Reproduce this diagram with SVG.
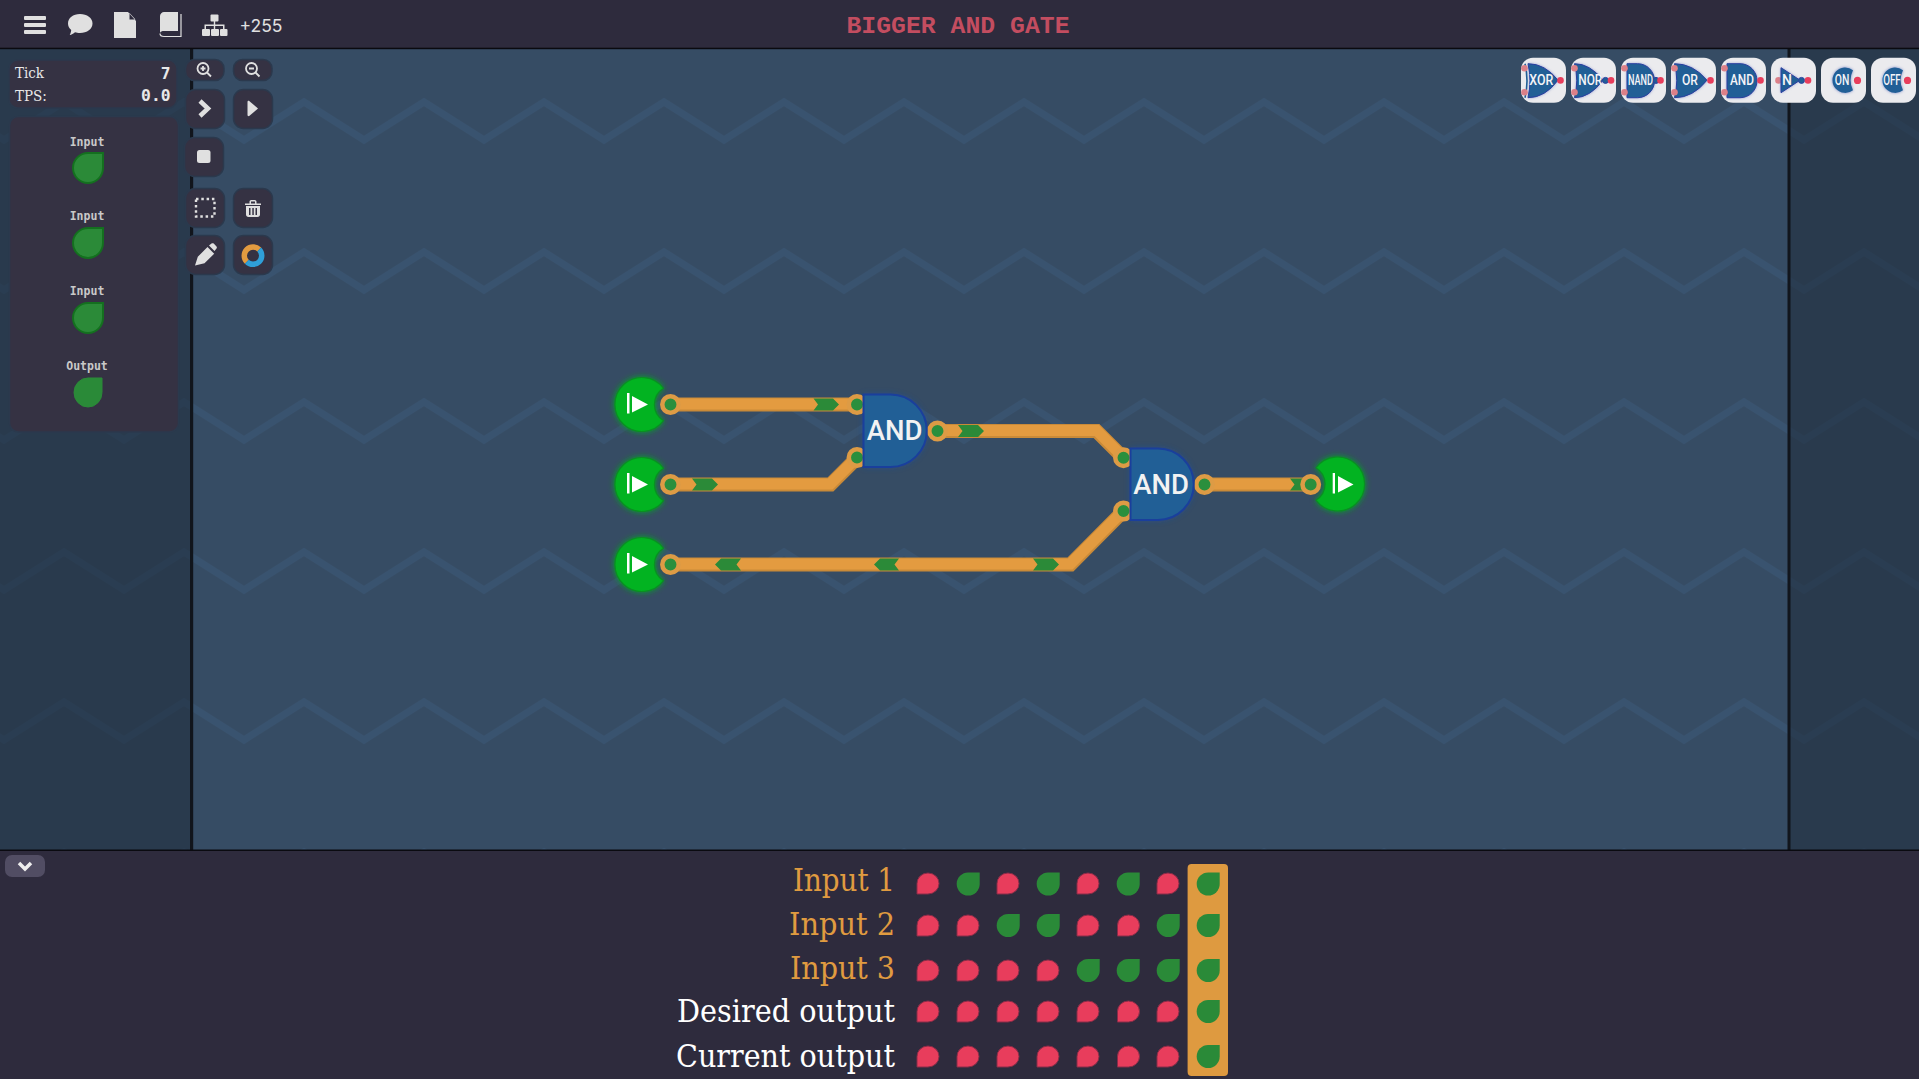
<svg xmlns="http://www.w3.org/2000/svg" width="1919" height="1079" viewBox="0 0 1919 1079">
<style>
.bar{fill:#2e2b3d}
.btn{fill:#353243;stroke:#2b394d;stroke-width:1.5}
.ico{fill:#e0e0e0}
.ical{fill:none;stroke:#e0e0e0}
.slab{font-family:"DejaVu Serif Condensed","DejaVu Serif",serif}
.lab{font-size:31px;text-anchor:end}
.or{fill:#e09b40}
.wh{fill:#fff}
.wb{fill:none;stroke:#c98a38;stroke-width:14;stroke-linejoin:miter}
.wt{fill:none;stroke:#e39b40;stroke-width:11;stroke-linejoin:miter}
.ch{fill:#2b8a38}
.pin{fill:#2b8f3d;stroke:#dd9b45;stroke-width:4.5;filter:url(#b1)}
.gate{fill:#215f96;stroke:#1a3f9c;stroke-width:2}
.gt{font-family:Roboto,sans-serif;font-weight:500;font-size:27.5px;fill:#f2f2f2;text-anchor:middle}
.node{fill:#02b321;stroke:#0a8f22;stroke-width:1.2}
.sm{font-family:"DejaVu Sans Mono",monospace;font-size:11.5px;font-weight:700;fill:#c9c9c9;text-anchor:middle}
.leaf{fill:#2b8a38;stroke:#14701f;stroke-width:2}
.tile{fill:#ebebee}
.mg{fill:#215f96;stroke:#2a3fa0;stroke-width:1}
.mt{font-family:Roboto,sans-serif;font-weight:500;font-size:14px;fill:#f4f4f8;text-anchor:middle}
.po{fill:#e83e5c}
.pi{fill:#dc8088}
.r{fill:#e83e5c;stroke:#8a2c48;stroke-width:1;filter:url(#b1)}
.g{fill:#2b8a38;filter:url(#b1)}
</style>
<defs>
<pattern id="zig" width="120" height="150" patternUnits="userSpaceOnUse" patternTransform="translate(244 140)">
<path d="M-60 -38L0 0L60 -38L120 0L180 -38M-60 112L0 150L60 112L120 150L180 112" fill="none" stroke="#39536f" stroke-width="7"/>
</pattern>
<filter id="b1" x="-30%" y="-30%" width="160%" height="160%"><feGaussianBlur stdDeviation="0.5"/></filter>
<filter id="glow" x="-40%" y="-40%" width="180%" height="180%"><feGaussianBlur stdDeviation="3"/></filter>
<filter id="mglow" x="-40%" y="-40%" width="180%" height="180%"><feGaussianBlur stdDeviation="1.6"/></filter>
<path id="red" d="M0 21V10.500A11 10.500 0 1 1 11 21Z" class="r"/>
<path id="grn" d="M23 0V11.500A11.500 11.500 0 1 1 11.500 0Z" class="g"/>
<path id="leafd" d="M15 0V15A15 15 0 1 1 0 0Z" class="leaf"/>
<path id="nodeL" d="M21 -16.2A27 27 0 1 0 21 16.2A19 19 0 0 1 21 -16.2Z" class="node"/>
</defs>

<rect width="1919" height="1079" fill="#364c64"/>
<rect width="1919" height="850" fill="url(#zig)"/>
<rect x="0" y="48" width="190" height="802" fill="#1f2c3b" opacity="0.55"/>
<rect x="1790" y="48" width="129" height="802" fill="#1f2c3b" opacity="0.55"/>
<rect x="190" y="48" width="3.2" height="802" fill="#11151c"/>
<rect x="1787.5" y="48" width="3" height="802" fill="#11151c"/>

<g id="topbar">
<rect class="bar" width="1919" height="48"/>
<rect y="47.7" width="1919" height="1.5" fill="#0a0a10"/>
<g class="ico">
<rect x="24" y="16" width="22" height="4" rx="1"/><rect x="24" y="23" width="22" height="4" rx="1"/><rect x="24" y="30" width="22" height="4" rx="1"/>
<path d="M80 14C87 14 92.500 18 92.500 23.500C92.500 29 87 33 80 33C78 33 76.500 32.700 75 32.200C73.500 33.500 71.500 34.700 69.700 35C70.500 33.800 71 32 71.200 30C69 28.200 68 26 68 23.500C68 18 73 14 80 14Z"/>
<path d="M114 12H128L136 21V38H114ZM129.500 13V19.500H135.500Z" fill-rule="evenodd"/>
<path d="M164 12H178V31H164C162 31 160.500 31.500 160 33V16C160 14 162 12 164 12Z"/>
<path d="M160 33.500C160 35.500 162 36.500 164 36.500H181V14" fill="none" stroke="#e0e0e0" stroke-width="1.2"/>
<rect x="210.500" y="14.500" width="8" height="7" rx="1"/><rect x="202" y="29" width="8" height="7" rx="1"/><rect x="211" y="29" width="8" height="7" rx="1"/><rect x="220" y="29" width="7.500" height="7" rx="1"/>
<path d="M213.800 21H215.200V24.500H224.500V29H223V26H215.200V29H213.800V26H206V29H204.500V24.500H213.800Z"/>
</g>
<text x="239.500" y="32" font-family="Inter,sans-serif" font-size="17.500" fill="#e0e0e0">+255</text>
<text x="958" y="33" text-anchor="middle" font-family="'Liberation Mono',monospace" font-weight="700" font-size="24.800" fill="#c34d60">BIGGER AND GATE</text>
</g>

<g id="tick-panel">
<rect class="btn" x="9" y="60" width="168" height="48" rx="9"/>
<text class="slab" x="15" y="78" font-size="15" fill="#e8e8e8">Tick</text>
<text class="slab" x="15" y="101" font-size="15" fill="#e8e8e8">TPS:</text>
<text x="170.500" y="79" text-anchor="end" font-family="'DejaVu Sans Mono',monospace" font-size="16.300" font-weight="700" fill="#e8e8e8">7</text>
<text x="170.500" y="101" text-anchor="end" font-family="'DejaVu Sans Mono',monospace" font-size="16.300" font-weight="700" fill="#e8e8e8">0.0</text>
</g>

<g id="tools">
<rect class="btn" x="185.500" y="59.500" width="38.500" height="21" rx="9"/>
<rect class="btn" x="233.500" y="59.500" width="38.500" height="21" rx="9"/>
<g class="ical" stroke-width="1.800">
<circle cx="203" cy="68.500" r="5.500"/><path d="M207 72.500L211 76.500M200.500 68.500H205.500M203 66V71"/>
<circle cx="251.500" cy="68.500" r="5.500"/><path d="M255.500 72.500L259.500 76.500M249 68.500H254"/>
</g>
<rect class="btn" x="185.500" y="89.500" width="39" height="39" rx="10"/>
<rect class="btn" x="233.500" y="89.500" width="39" height="39" rx="10"/>
<path d="M200 101L208 108.500L200 116" fill="none" stroke="#e0e0e0" stroke-width="4.500"/>
<path class="ico" d="M247.500 102C247.500 101 248.500 100.500 249.500 101.200L258 108.500L249.500 115.800C248.500 116.500 247.500 116 247.500 115Z"/>
<rect class="btn" x="184.500" y="137.500" width="39" height="39" rx="10"/>
<rect class="ico" x="197" y="150" width="13.500" height="13" rx="2.500"/>
<rect class="btn" x="185.500" y="188.500" width="39" height="39" rx="10"/>
<rect class="btn" x="233.500" y="188.500" width="39" height="39" rx="10"/>
<rect x="196" y="199" width="18.500" height="17.500" fill="none" stroke="#e0e0e0" stroke-width="2.400" stroke-dasharray="2.500 2.800"/>
<path class="ico" d="M245 203.500H249.500V201.800C249.500 200.700 250.300 200 251.300 200H254.700C255.700 200 256.500 200.700 256.500 201.800V203.500H261V205H245ZM251 203.500H255V201.500H251ZM246 206H260V214.500C260 216 259 217 257.500 217H248.500C247 217 246 216 246 214.500ZM249 208V215H250.500V208ZM252.300 208V215H253.800V208ZM255.500 208V215H257V208Z" fill-rule="evenodd"/>
<rect class="btn" x="185.500" y="235.500" width="39" height="39" rx="10"/>
<rect class="btn" x="233.500" y="235.500" width="39" height="39" rx="10"/>
<path class="ico" d="M195 265.500L197.800 256.800L207.500 247L214.200 253.700L204.500 263.200ZM209 245.500L211.500 243.500C212.300 243 213 243 213.700 243.600L216.500 246.400C217 247 217 247.800 216.500 248.500L214.500 251Z"/>
<path d="M246.800 261.800A8.700 8.700 0 0 1 259.200 249.500" fill="none" stroke="#e39b40" stroke-width="5.500"/>
<path d="M259.200 249.500A8.700 8.700 0 0 1 246.800 261.800" fill="none" stroke="#2f9fd8" stroke-width="5.500"/>
</g>

<g id="io-panel">
<rect class="btn" x="9.500" y="116.500" width="169" height="315.500" rx="9"/>
<text class="sm" x="87" y="145.500">Input</text>
<use href="#leafd" transform="translate(88 153)"/>
<text class="sm" x="87" y="220">Input</text>
<use href="#leafd" transform="translate(88 228)"/>
<text class="sm" x="87" y="295">Input</text>
<use href="#leafd" transform="translate(88 303)"/>
<text class="sm" x="87" y="370">Output</text>
<path d="M102 378V392.500A14 14.500 0 1 1 88 378Z" fill="#2b8a38" stroke="#2b8a38" stroke-width="1" filter="url(#b1)"/>
</g>

<g id="palette">
<g id="tile-xor" transform="translate(1521 57.700)">
<rect class="tile" width="45" height="45" rx="12"/>
<path d="M7 6Q24 6 37 22.500Q24 40 7 40Q11 23 7 6Z" fill="#7c88c8" filter="url(#mglow)"/>
<path class="mg" d="M7 6Q24 6 37 22.500Q24 40 7 40Q11 23 7 6Z"/>
<path d="M4 6Q8 23 4 40" fill="none" stroke="#215f96" stroke-width="1.600"/>
<circle class="pi" cx="3.500" cy="10.500" r="3.300"/><circle class="pi" cx="3.500" cy="34.500" r="3.300"/><circle class="po" cx="39.500" cy="22.700" r="3.300"/>
<text class="mt" x="20.300" y="27.500" textLength="24" lengthAdjust="spacingAndGlyphs">XOR</text>
</g>
<g id="tile-nor" transform="translate(1571 57.700)">
<rect class="tile" width="45" height="45" rx="12"/>
<path d="M3.500 6Q19 6 32 22.500Q19 40 3.500 40Q8 23 3.500 6Z" fill="#7c88c8" filter="url(#mglow)"/>
<path class="mg" d="M3.500 6Q19 6 32 22.500Q19 40 3.500 40Q8 23 3.500 6Z"/>
<circle cx="34.500" cy="22.700" r="3" fill="#215f96" stroke="#2a3fa0"/>
<circle class="pi" cx="3.500" cy="10.500" r="3.300"/><circle class="pi" cx="3.500" cy="34.500" r="3.300"/><circle class="po" cx="40" cy="22.700" r="3.300"/>
<text class="mt" x="19.300" y="27.500" textLength="24" lengthAdjust="spacingAndGlyphs">NOR</text>
</g>
<g id="tile-nand" transform="translate(1621 57.700)">
<rect class="tile" width="45" height="45" rx="12"/>
<path d="M6 6H16.500A17 17 0 0 1 16.500 40H6Z" fill="#7c88c8" filter="url(#mglow)"/>
<path class="mg" d="M6 6H16.500A17 17 0 0 1 16.500 40H6Z"/>
<circle cx="35" cy="22.700" r="3" fill="#215f96" stroke="#2a3fa0"/>
<circle class="pi" cx="3.500" cy="10.500" r="3.300"/><circle class="pi" cx="3.500" cy="34.500" r="3.300"/><circle class="po" cx="39.500" cy="22.700" r="3.300"/>
<text class="mt" x="19.500" y="27.500" textLength="25" lengthAdjust="spacingAndGlyphs">NAND</text>
</g>
<g id="tile-or" transform="translate(1671 57.700)">
<rect class="tile" width="45" height="45" rx="12"/>
<path d="M3.500 6Q22 6 36 22.500Q22 40 3.500 40Q8 23 3.500 6Z" fill="#7c88c8" filter="url(#mglow)"/>
<path class="mg" d="M3.500 6Q22 6 36 22.500Q22 40 3.500 40Q8 23 3.500 6Z"/>
<circle class="pi" cx="3.500" cy="10.500" r="3.300"/><circle class="pi" cx="3.500" cy="34.500" r="3.300"/><circle class="po" cx="39.500" cy="22.700" r="3.300"/>
<text class="mt" x="19" y="27.500" textLength="16" lengthAdjust="spacingAndGlyphs">OR</text>
</g>
<g id="tile-and" transform="translate(1721 57.700)">
<rect class="tile" width="45" height="45" rx="12"/>
<path d="M6 6H19A17 17 0 0 1 19 40H6Z" fill="#7c88c8" filter="url(#mglow)"/>
<path class="mg" d="M6 6H19A17 17 0 0 1 19 40H6Z"/>
<circle class="pi" cx="3.500" cy="10.500" r="3.300"/><circle class="pi" cx="3.500" cy="34.500" r="3.300"/><circle class="po" cx="39.500" cy="22.700" r="3.300"/>
<text class="mt" x="21" y="27.500" textLength="24" lengthAdjust="spacingAndGlyphs">AND</text>
</g>
<g id="tile-not" transform="translate(1771 57.700)">
<rect class="tile" width="45" height="45" rx="12"/>
<circle class="pi" cx="7.500" cy="22.700" r="3.300"/>
<path d="M10 10V35L29 22.500Z" fill="#7c88c8" filter="url(#mglow)"/>
<path class="mg" d="M10 10V35L29 22.500Z"/>
<circle cx="30.500" cy="22.700" r="3" fill="#215f96" stroke="#2a3fa0"/>
<circle class="po" cx="37" cy="22.700" r="3.300"/>
<text class="mt" x="16" y="27.500">N</text>
</g>
<g id="tile-on" transform="translate(1821 57.700)">
<rect class="tile" width="45" height="45" rx="12"/>
<path d="M32 12.500A12.700 12.700 0 1 0 32 32.500Q27 22.500 32 12.500Z" fill="#7c88c8" filter="url(#mglow)"/>
<path d="M32 12.500A12.700 12.700 0 1 0 32 32.500Q27 22.500 32 12.500Z" fill="#215f96"/>
<circle class="po" cx="36.500" cy="22.700" r="3.600"/>
<text class="mt" x="21" y="27.500" textLength="14.500" lengthAdjust="spacingAndGlyphs">ON</text>
</g>
<g id="tile-off" transform="translate(1871 57.700)">
<rect class="tile" width="45" height="45" rx="12"/>
<path d="M32 12.500A12.700 12.700 0 1 0 32 32.500Q27 22.500 32 12.500Z" fill="#7c88c8" filter="url(#mglow)"/>
<path d="M32 12.500A12.700 12.700 0 1 0 32 32.500Q27 22.500 32 12.500Z" fill="#215f96"/>
<circle class="po" cx="36.500" cy="22.700" r="3.600"/>
<text class="mt" x="21" y="27.500" textLength="17.500" lengthAdjust="spacingAndGlyphs">OFF</text>
</g>
</g>

<g id="connectors">
<g id="w1"><path class="wb" d="M670 404.500H857"/><path class="wt" d="M670 404H857"/><path class="ch" d="M813.500 398.500H833L839 404.500L833 410.500H813.500L818 404.500Z"/></g>
<g id="w2"><path class="wb" d="M670 484.500H830.500L857 458"/><path class="wt" d="M670 484H830.300L857 457.300"/><path class="ch" d="M692 478.500H712L718 484.500L712 490.500H692L696.500 484.500Z"/></g>
<g id="w3"><path class="wb" d="M670 564.500H1070.500L1123 511.500"/><path class="wt" d="M670 564H1070.300L1123 511"/><path class="ch" d="M741 558.500H721L715 564.500L721 570.500H741L736.500 564.500Z"/><path class="ch" d="M899 558.500H880L874 564.500L880 570.500H899L894.500 564.500Z"/><path class="ch" d="M1033 558.500H1053L1059 564.500L1053 570.500H1033L1037.500 564.500Z"/></g>
<g id="w4"><path class="wb" d="M937 431H1096.500L1123 457.500"/><path class="wt" d="M937 430.500H1096.700L1123 457"/><path class="ch" d="M958 425H978L984 431L978 437H958L962.500 431Z"/></g>
<g id="w5"><path class="wb" d="M1204 484.500H1311"/><path class="wt" d="M1204 484H1311"/><path class="ch" d="M1290 478.500H1310L1316 484.500L1310 490.500H1290L1294.500 484.500Z"/></g>
</g>

<g id="input-1" transform="translate(642.500 404.500)">
<use href="#nodeL" filter="url(#glow)"/><use href="#nodeL"/>
<path d="M-15.500 -11.500H-13V9H-15.500ZM-10.500 -8.500L5.500 0L-10.500 8Z" fill="#fff"/>
<circle class="pin" cx="28" cy="0" r="8.200"/>
</g>
<g id="input-2" transform="translate(642.500 484.500)">
<use href="#nodeL" filter="url(#glow)"/><use href="#nodeL"/>
<path d="M-15.500 -11.500H-13V9H-15.500ZM-10.500 -8.500L5.500 0L-10.500 8Z" fill="#fff"/>
<circle class="pin" cx="28" cy="0" r="8.200"/>
</g>
<g id="input-3" transform="translate(642.500 564.500)">
<use href="#nodeL" filter="url(#glow)"/><use href="#nodeL"/>
<path d="M-15.500 -11.500H-13V9H-15.500ZM-10.500 -8.500L5.500 0L-10.500 8Z" fill="#fff"/>
<circle class="pin" cx="28" cy="0" r="8.200"/>
</g>
<g id="output-1" transform="translate(1337 484)">
<g transform="scale(-1 1)"><use href="#nodeL" filter="url(#glow)"/><use href="#nodeL"/></g>
<path d="M-4.300 -11H-2V9.500H-4.300ZM1 -8L16.500 0.500L1 8.500Z" fill="#fff"/>
<circle class="pin" cx="-26.300" cy="0.500" r="8.200"/>
</g>

<g id="and-1">
<path d="M863.500 394.500H890.500A36.250 36.250 0 0 1 890.500 467H863.500Z" fill="#1a4fb0" filter="url(#glow)" opacity="0.6"/>
<circle class="pin" cx="857" cy="404.500" r="8.200"/><circle class="pin" cx="857" cy="457.500" r="8.200"/>
<circle class="pin" cx="937.500" cy="431" r="8.200"/>
<path class="gate" d="M863.500 394.500H890.500A36.250 36.250 0 0 1 890.500 467H863.500Z"/>
<text class="gt" x="894.500" y="440">AND</text>
</g>
<g id="and-2">
<path d="M1130.500 448.500H1158A35.750 35.750 0 0 1 1158 520H1130.500Z" fill="#1a4fb0" filter="url(#glow)" opacity="0.6"/>
<circle class="pin" cx="1123.500" cy="457.700" r="8.200"/><circle class="pin" cx="1123.500" cy="511" r="8.200"/>
<circle class="pin" cx="1204.500" cy="484.500" r="8.200"/>
<path class="gate" d="M1130.500 448.500H1158A35.750 35.750 0 0 1 1158 520H1130.500Z"/>
<text class="gt" x="1161" y="493.500">AND</text>
</g>

<g id="bottombar">
<rect class="bar" y="850" width="1919" height="229"/>
<rect y="849.500" width="1919" height="1.500" fill="#0a0a10"/>
<rect x="5" y="855" width="40" height="22" rx="7" fill="#514d63"/>
<path d="M19 863L25 869L31 863" fill="none" stroke="#eee" stroke-width="3.500"/>
<rect x="1187.600" y="864" width="40.400" height="212" rx="4" fill="#de9a40"/>
<g class="slab lab">
<text class="or" x="895" y="891" textLength="102" lengthAdjust="spacingAndGlyphs">Input 1</text>
<text class="or" x="895" y="935" textLength="106" lengthAdjust="spacingAndGlyphs">Input 2</text>
<text class="or" x="895" y="979" textLength="105" lengthAdjust="spacingAndGlyphs">Input 3</text>
<text class="wh" x="895" y="1022" textLength="218" lengthAdjust="spacingAndGlyphs">Desired output</text>
<text class="wh" x="895" y="1067" textLength="219" lengthAdjust="spacingAndGlyphs">Current output</text>
</g>
<g id="row1">
<use href="#red" x="917" y="873"/><use href="#grn" x="956.700" y="872.500"/><use href="#red" x="997" y="873"/><use href="#grn" x="1036.700" y="872.500"/><use href="#red" x="1077" y="873"/><use href="#grn" x="1116.700" y="872.500"/><use href="#red" x="1157" y="873"/><use href="#grn" x="1196.700" y="872.500"/>
</g>
<g id="row2">
<use href="#red" x="917" y="915"/><use href="#red" x="957" y="915"/><use href="#grn" x="996.700" y="914"/><use href="#grn" x="1036.700" y="914"/><use href="#red" x="1077" y="915"/><use href="#red" x="1117.500" y="915"/><use href="#grn" x="1156.700" y="914"/><use href="#grn" x="1196.700" y="914"/>
</g>
<g id="row3">
<use href="#red" x="917" y="960"/><use href="#red" x="957" y="960"/><use href="#red" x="997" y="960"/><use href="#red" x="1037" y="960"/><use href="#grn" x="1076.700" y="959"/><use href="#grn" x="1116.700" y="959"/><use href="#grn" x="1156.700" y="959"/><use href="#grn" x="1196.700" y="959"/>
</g>
<g id="row4">
<use href="#red" x="917" y="1001"/><use href="#red" x="957" y="1001"/><use href="#red" x="997" y="1001"/><use href="#red" x="1037" y="1001"/><use href="#red" x="1077" y="1001"/><use href="#red" x="1117.500" y="1001"/><use href="#red" x="1157" y="1001"/><use href="#grn" x="1196.700" y="1000"/>
</g>
<g id="row5">
<use href="#red" x="917" y="1046"/><use href="#red" x="957" y="1046"/><use href="#red" x="997" y="1046"/><use href="#red" x="1037" y="1046"/><use href="#red" x="1077" y="1046"/><use href="#red" x="1117.500" y="1046"/><use href="#red" x="1157" y="1046"/><use href="#grn" x="1196.700" y="1045"/>
</g>
</g>
</svg>
